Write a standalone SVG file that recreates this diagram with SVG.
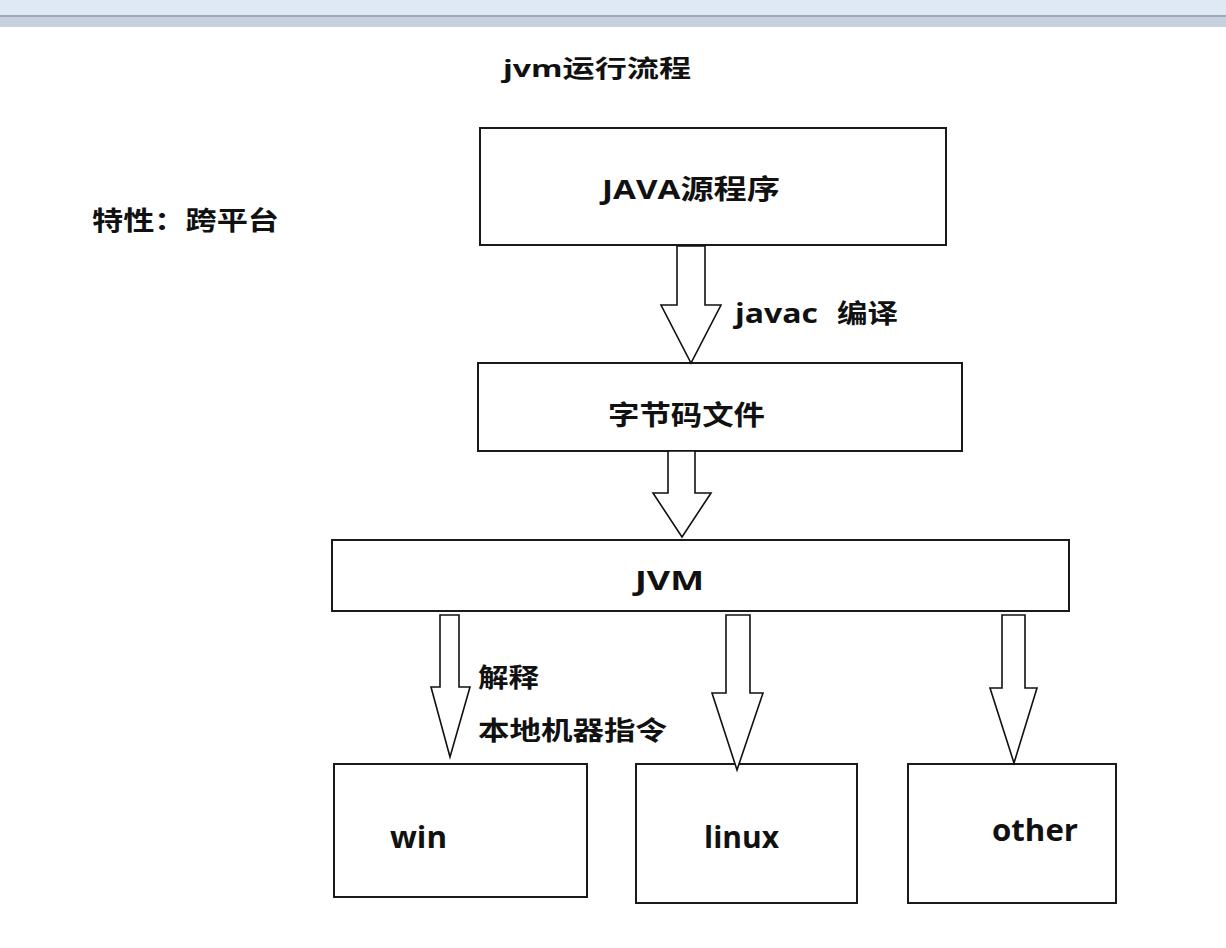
<svg xmlns="http://www.w3.org/2000/svg" width="1226" height="948" viewBox="0 0 1226 948">
<style>
.box{fill:#fff;stroke:#1a1a1a;stroke-width:2}
.arr{fill:#fff;stroke:#111;stroke-width:1.6;stroke-linejoin:miter}
text{font-family:"Open Sans","Noto Sans CJK SC",sans-serif;font-weight:bold;fill:#111}
</style>
<rect x="0" y="0" width="1226" height="948" fill="#fff"/>
<g id="toolbar">
<rect x="0" y="0" width="1226" height="16" fill="#dfe8f5"/>
<rect x="0" y="15" width="1226" height="2" fill="#9ea8b8"/>
<rect x="0" y="17" width="1226" height="10" fill="#c7d0de"/>
</g>
<text x="503" y="77" font-size="24" textLength="188" lengthAdjust="spacingAndGlyphs">jvm运行流程</text>
<text x="92" y="230" font-size="26" textLength="187" lengthAdjust="spacingAndGlyphs">特性：跨平台</text>
<g id="node-java">
<rect class="box" x="480" y="128" width="466" height="117"/>
<text x="602" y="199" font-size="27" textLength="178" lengthAdjust="spacingAndGlyphs">JAVA源程序</text>
</g>
<g id="node-bytecode">
<rect class="box" x="478" y="363" width="484" height="88"/>
<text x="608" y="425" font-size="27" textLength="157" lengthAdjust="spacingAndGlyphs">字节码文件</text>
</g>
<g id="node-jvm">
<rect class="box" x="332" y="540" width="737" height="71"/>
<text x="635" y="590" font-size="27" textLength="69" lengthAdjust="spacingAndGlyphs">JVM</text>
</g>
<g id="node-win">
<rect class="box" x="334" y="764" width="253" height="133"/>
<text x="390" y="848" font-size="30" textLength="57" lengthAdjust="spacingAndGlyphs">win</text>
</g>
<g id="node-linux">
<rect class="box" x="636" y="764" width="221" height="139"/>
<text x="704" y="848" font-size="30" textLength="75" lengthAdjust="spacingAndGlyphs">linux</text>
</g>
<g id="node-other">
<rect class="box" x="908" y="764" width="208" height="139"/>
<text x="992" y="841" font-size="30" textLength="86" lengthAdjust="spacingAndGlyphs">other</text>
</g>
<g id="connectors">
<path class="arr" d="M677,246 L705,246 L705,305 L721,305 L691,363 L661,305 L677,305 Z"/>
<path class="arr" d="M668,451 L695,451 L695,493 L711,493 L682,537 L653,493 L668,493 Z"/>
<path class="arr" d="M440,615 L459,615 L459,687 L470,687 L450,757 L431,687 L440,687 Z"/>
<path class="arr" d="M726,615 L750,615 L750,693 L763,693 L737,770 L712,693 L726,693 Z"/>
<path class="arr" d="M1002,615 L1025,615 L1025,688 L1037,688 L1014,763 L990,688 L1002,688 Z"/>
<text font-size="26"><tspan x="735" y="323" textLength="83" lengthAdjust="spacingAndGlyphs">javac</tspan><tspan x="837" y="323" textLength="61" lengthAdjust="spacingAndGlyphs">编译</tspan></text>
<text x="478" y="687" font-size="26" textLength="61" lengthAdjust="spacingAndGlyphs">解释</text>
<text x="478" y="740" font-size="26" textLength="189" lengthAdjust="spacingAndGlyphs">本地机器指令</text>
</g>
</svg>
